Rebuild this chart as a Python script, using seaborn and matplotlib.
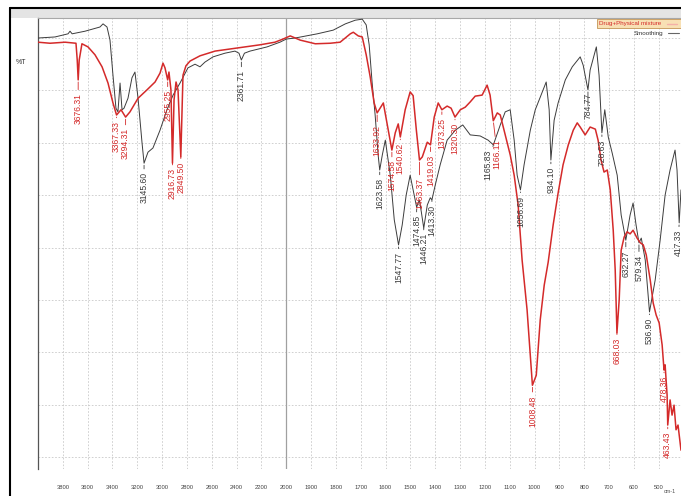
import numpy as np
import pandas as pd
import matplotlib
matplotlib.use("Agg")
import matplotlib.pyplot as plt
import seaborn as sns
from matplotlib.lines import Line2D
from matplotlib.patches import Rectangle

# ---- spectra: wavenumber (cm-1) and transmittance (%T) ----
smooth_wn = [4000, 3863, 3758, 3742, 3725, 3621, 3501, 3476, 3444, 3420, 3396, 3372, 3356,
             3339, 3323, 3307, 3275, 3243, 3219, 3194, 3162, 3145.60, 3114, 3074, 3017, 2961,
             2912, 2856, 2792, 2735, 2695, 2655, 2590, 2494, 2413, 2381, 2361.71, 2337, 2292,
             2155, 2051, 2000, 1964, 1875, 1811, 1762, 1722, 1694, 1678, 1666, 1654, 1642, 1630,
             1623.58, 1613, 1601, 1581, 1565, 1547.77, 1533, 1517, 1501, 1489, 1474.85, 1464,
             1456, 1446.21, 1432, 1420, 1413.30, 1400, 1380, 1352, 1319, 1289, 1259, 1219, 1187,
             1165.83, 1138, 1118, 1098, 1082, 1070, 1056.69, 1042, 1017, 997, 977, 953, 941,
             934.10, 921, 905, 876, 848, 816, 804, 784.77, 776, 751, 740, 728.63, 717, 703, 687,
             667, 651, 632.27, 615, 603, 591, 579.34, 570, 554, 536.90, 514, 494, 474, 454, 434,
             426, 417.33, 410]
smooth_t = [90.0, 90.2, 90.8, 91.3, 90.8, 91.3, 92.1, 92.7, 92.1, 89.6, 82.9, 76.6, 75.9,
            81.4, 76.3, 76.6, 78.5, 82.4, 83.5, 78.5, 70.0, 66.1, 68.2, 69.0, 72.4, 76.3,
            79.1, 81.4, 84.3, 85.0, 84.5, 85.4, 86.4, 87.1, 87.5, 87.1, 85.8, 87.1, 87.5,
            88.3, 89.2, 89.8, 90.0, 90.8, 91.5, 92.7, 93.4, 93.6, 92.5, 88.7, 81.4, 75.3, 67.7,
            64.8, 67.7, 70.5, 63.8, 55.3, 50.5, 54.3, 60.0, 63.8, 61.0, 57.7, 59.1,
            56.8, 53.7, 58.1, 59.5, 59.1, 61.9, 65.8, 70.5, 72.4, 73.4, 71.5, 71.3, 70.5,
            69.6, 73.4, 75.9, 76.3, 70.5, 63.8, 61.0, 65.8, 72.4, 76.3, 78.7, 81.6, 76.3,
            66.7, 74.3, 77.6, 82.0, 84.5, 86.4, 84.8, 80.1, 83.9, 88.3, 82.9, 71.9, 76.3, 71.1, 68.0,
            63.8, 56.2, 51.4, 56.2, 58.5, 54.3, 50.9, 51.8, 47.6, 37.7, 43.8, 51.4, 60.0, 64.8, 68.6,
            64.8, 54.7, 61.0]

mix_wn = [4000, 3903, 3782, 3694, 3684, 3676.31, 3668, 3646, 3597, 3541, 3484, 3436, 3396,
          3367.33, 3331, 3294.31, 3259, 3194, 3122, 3057, 3017, 2993, 2977, 2955.25, 2945,
          2929, 2916.73, 2904, 2888, 2872, 2849.50, 2832, 2808, 2775, 2695, 2574, 2453, 2333,
          2212, 2091, 2026, 1984, 1944, 1883, 1823, 1783, 1742, 1730, 1710, 1694, 1678, 1662,
          1646, 1633.92, 1622, 1609, 1593, 1574.58, 1561, 1549, 1540.62, 1521, 1501, 1489,
          1476, 1463.37, 1452, 1440, 1432, 1419.03, 1404, 1388, 1373.25, 1352, 1336, 1320.30,
          1299, 1279, 1259, 1239, 1211, 1191, 1179, 1166.11, 1150, 1138, 1118, 1098, 1082,
          1066, 1050, 1030, 1017, 1008.48, 993, 977, 961, 945, 925, 905, 885, 864, 844, 828,
          816, 796, 776, 755, 744, 732, 720, 707, 695, 683, 675, 668.03, 659, 651, 639, 627,
          615, 603, 587, 574, 562, 550, 534, 522, 510, 498, 486, 478.36, 474, 466, 463.43,
          454, 446, 438, 430, 422, 410]
mix_t = [89.2, 89.0, 89.2, 89.0, 85.8, 82.0, 85.8, 88.9, 88.3, 86.8, 84.5, 81.4, 77.6,
         75.3, 76.3, 74.9, 75.9, 78.5, 80.1, 81.6, 83.3, 85.2, 84.3, 82.0, 83.5,
         80.1, 66.1, 78.2, 81.6, 80.1, 67.3, 82.9, 84.7, 85.6, 86.6, 87.5, 87.9, 88.3,
         88.7, 89.2, 89.8, 90.4, 89.6, 88.9, 89.0, 89.2, 90.8, 91.1, 90.4, 90.2, 86.8, 82.6,
         77.6, 75.7, 76.6, 77.6, 73.4, 68.6, 71.9, 73.6, 71.1, 76.3, 79.7, 79.0,
         72.4, 66.7, 67.3, 69.0, 70.1, 69.6, 74.9, 77.6, 76.3, 77.0, 76.6, 74.9,
         76.3, 76.8, 77.8, 78.9, 79.1, 81.0, 79.1, 74.2, 75.7, 75.3, 71.5, 67.7, 63.8,
         58.1, 47.6, 38.1, 29.5, 23.7, 25.6, 36.2, 42.8, 47.2, 54.3, 60.4, 65.8, 69.6, 72.4, 73.8,
         73.0, 71.5, 73.0, 72.6, 70.5, 66.7, 64.4, 64.8, 61.0, 53.3, 45.7, 33.7, 40.0, 49.5, 52.0, 53.0,
         52.6, 53.3, 51.8, 50.9, 50.5, 48.6, 43.8, 39.4, 37.1, 35.6, 31.4, 26.6, 27.6, 21.8, 16.1,
         20.9, 18.0, 19.9, 15.2, 16.1, 11.3]

# ---- picked peaks ----
mix_peaks = [3676.31, 3367.33, 3294.31, 2955.25, 2916.73, 2849.50, 1633.92, 1574.58, 1540.62,
             1463.37, 1419.03, 1373.25, 1320.30, 1166.11, 1008.48, 668.03, 478.36, 463.43]
smooth_peaks = [3145.60, 2361.71, 1623.58, 1547.77, 1474.85, 1446.21, 1413.30, 1165.83,
                1056.69, 934.10, 784.77, 728.63, 632.27, 579.34, 536.90, 417.33]

# leader length below each peak (pixels) and small sideways nudges
mix_drop = [13, 6, 11, 10, 5, 5, 12, 10, 6, 18, 10, 8, 6, 19, 10, 5, 6, 7]
mix_nudge = [0] * 13 + [4] + [0] * 4
smooth_drop = [9, 10, 8, 7, 8, 5, 5, 5, 6, 7, 3, 7, 10, 12, 6, 7]
smooth_nudge = [0] * 7 + [-5] + [0] * 7 + [-1]

major_ticks = [3800, 3600, 3400, 3200, 3000, 2800, 2600, 2400, 2200, 2000,
               1900, 1800, 1700, 1600, 1500, 1400, 1300, 1200, 1100, 1000,
               900, 800, 700, 600, 500]

series_names = ["Drug+Physical mixture", "Smoothing"]

RED = "#d42a2a"
DARK = "#3c3c3c"

sns.set_style("white")
plt.rcParams["font.family"] = ["Liberation Sans", "DejaVu Sans"]

W, H = 681, 496
fig = plt.figure(figsize=(W / 100, H / 100), dpi=100)
fig.patch.set_facecolor("white")


def fx(px):
    return px / W


def fy(py):
    return 1 - py / H


ax = fig.add_axes([fx(38), fy(469), fx(681) - fx(38), fy(18) - fy(469)])
ax.set_facecolor("white")

df_smooth = pd.DataFrame({"wavenumber": smooth_wn, "T": smooth_t})
df_mix = pd.DataFrame({"wavenumber": mix_wn, "T": mix_t})
sns.lineplot(data=df_smooth, x="wavenumber", y="T", ax=ax, color=DARK, lw=0.7,
             estimator=None, legend=False, zorder=3)
sns.lineplot(data=df_mix, x="wavenumber", y="T", ax=ax, color=RED, lw=1.1,
             estimator=None, legend=False, zorder=4)


# wavenumber axis: expanded scale below 2000 cm-1
def fwd(x):
    x = np.asarray(x, dtype=float)
    return np.where(x >= 2000, x, 2 * x - 2000)


def inv(y):
    y = np.asarray(y, dtype=float)
    return np.where(y >= 2000, y, (y + 2000) / 2)


ax.set_xscale("function", functions=(fwd, inv))
ax.set_xlim(4000, 410)
ax.set_ylim(7.71, 93.82)

ax.set_xticks(major_ticks)
ax.set_xticklabels([str(t) for t in major_ticks])
minor_x = [v for v in range(2040, 4000, 40)] + [v for v in range(420, 2000, 20)]
ax.set_xticks(minor_x, minor=True)
ax.set_yticks(range(10, 91, 10))
ax.set_yticklabels([])
ax.set_yticks(range(8, 94, 2), minor=True)

ax.tick_params(axis="x", which="major", direction="out", length=3.6, width=0.6,
               color="#777777", labelsize=4.2, labelcolor="#444444", pad=8)
ax.tick_params(axis="x", which="minor", direction="out", length=2.4, width=0.5,
               color="#888888")
ax.tick_params(axis="y", which="major", direction="out", length=6, width=0.7,
               color="#555555")
ax.tick_params(axis="y", which="minor", direction="out", length=3, width=0.6,
               color="#666666")
ax.set_xlabel("")
ax.set_ylabel("")

ax.grid(True, which="major", axis="both", color="#c9c9c9", lw=0.6,
        linestyle=(0, (2, 2)), zorder=0)
ax.axvline(2000, color="#a0a0a0", lw=0.9, zorder=1)

ax.spines["bottom"].set_visible(False)
ax.spines["right"].set_visible(False)
ax.spines["left"].set_color("#555555")
ax.spines["left"].set_linewidth(0.9)
ax.spines["top"].set_color("#a8a8a8")
ax.spines["top"].set_linewidth(0.8)


def label_peaks(peaks, drops, nudges, wn, t, color):
    xs = np.asarray(wn, dtype=float)[::-1]
    ys = np.asarray(t, dtype=float)[::-1]
    for p, d, n in zip(peaks, drops, nudges):
        tp = np.interp(p, xs, ys)
        ax.annotate(f"{p:.2f}", xy=(p, tp), xytext=(n, -d), textcoords="offset pixels",
                    rotation=90, ha="center", va="top", fontsize=6.2, color=color,
                    arrowprops=dict(arrowstyle="-", color=color, lw=0.6,
                                    shrinkA=0, shrinkB=1.5),
                    zorder=5)


label_peaks(smooth_peaks, smooth_drop, smooth_nudge, smooth_wn, smooth_t, DARK)
label_peaks(mix_peaks, mix_drop, mix_nudge, mix_wn, mix_t, RED)

# window frame and title band
fig.add_artist(Rectangle((fx(11), fy(18)), fx(681) - fx(11), fy(9) - fy(18),
                         transform=fig.transFigure, facecolor="#e4e4e4",
                         edgecolor="none", zorder=0))
fig.add_artist(Line2D([fx(10), fx(681)], [fy(8), fy(8)], transform=fig.transFigure,
                      color="black", lw=1.5))
fig.add_artist(Line2D([fx(10), fx(10)], [fy(8), fy(496)], transform=fig.transFigure,
                      color="black", lw=1.5))

# axis captions
fig.text(fx(16), fy(62), "%T", fontsize=5, color="#333333", va="center", ha="left")
fig.text(fx(664), fy(489), "cm-1", fontsize=4, color="#555555", va="top", ha="left")

# legend
fig.add_artist(Rectangle((fx(597), fy(28)), fx(90), fy(0) - fy(9),
                         transform=fig.transFigure, facecolor="#f8e0b4",
                         edgecolor="#c49555", lw=0.6, zorder=5))
fig.text(fx(599), fy(23.5), series_names[0], fontsize=4.5, color=RED,
         va="center", ha="left", zorder=6)
fig.add_artist(Line2D([fx(667), fx(677)], [fy(23.5), fy(23.5)], transform=fig.transFigure,
                      color="#f4b0a8", lw=1.0, zorder=6))
fig.text(fx(663), fy(33), series_names[1], fontsize=4.5, color="#333333",
         va="center", ha="right", zorder=6)
fig.add_artist(Line2D([fx(668), fx(679)], [fy(33), fy(33)], transform=fig.transFigure,
                      color="#666666", lw=0.8, zorder=6))

fig.savefig("out.png", dpi=100)
